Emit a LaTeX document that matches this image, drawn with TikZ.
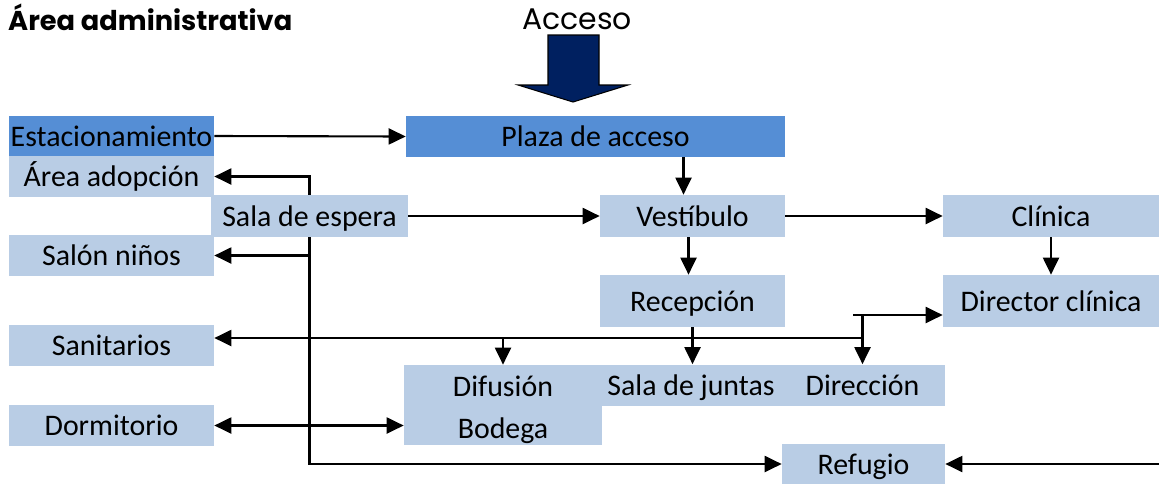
\documentclass[tikz,border=0pt]{standalone}
\usepackage{fontspec}
\setmainfont{Carlito}
\newfontfamily\gothic{Poppins}
\usetikzlibrary{arrows.meta}
\usetikzlibrary{positioning}
\definecolor{darkbox}{RGB}{85,142,213}
\definecolor{lightbox}{RGB}{185,205,229}
\definecolor{navy}{RGB}{0,32,96}

\tikzset{
  room/.style={fill=lightbox, inner sep=0pt, font=\fontsize{17}{23}\selectfont,
               text height=0.5cm, text depth=0.1cm},
  mainroom/.style={room, fill=darkbox},
  link/.style={line width=1.2pt, -{Triangle[length=3.4mm,width=3.2mm]}},
  duallink/.style={line width=1.2pt, {Triangle[length=3.4mm,width=3.2mm]}-{Triangle[length=3.4mm,width=3.2mm]}},
}

\begin{document}
\begin{tikzpicture}[x=0.02cm, y=-0.02cm]

\useasboundingbox (0,0) rectangle (1159,484);

%---------------------------------------
% Titles and access arrow
%---------------------------------------
\node[anchor=base west, font=\gothic\bfseries\fontsize{15.5}{18}\selectfont] (title) at (2,30) {Área administrativa};
\node[anchor=base, font=\gothic\fontsize{17}{20}\selectfont] (acceso) at (577,29) {Acceso};

\draw[fill=navy, line width=0.6pt] (548,35) -- (599,35) -- (599,85) -- (628,85)
  -- (573,102) -- (518,85) -- (548,85) -- cycle;

%---------------------------------------
% Rooms
%---------------------------------------
\node[mainroom, minimum width=4.1cm,  minimum height=0.8cm]  (est)     at (111.5,136)  {Estacionamiento};
\node[mainroom, minimum width=7.58cm, minimum height=0.82cm] (plaza)   at (595.5,136.5) {Plaza de acceso};
\node[room, minimum width=4.1cm,  minimum height=0.82cm] (adop)    at (111.5,176.5) {Área adopción};
\node[room, minimum width=3.94cm, minimum height=0.84cm] (espera)  at (309.5,216)   {Sala de espera};
\node[room, minimum width=4.1cm,  minimum height=0.82cm] (ninos)   at (111.5,255.5) {Salón niños};
\node[room, minimum width=3.7cm,  minimum height=0.84cm] (vest)    at (692.5,216)   {Vestíbulo};
\node[room, minimum width=4.32cm, minimum height=0.84cm] (clin)    at (1051,216)    {Clínica};
\node[room, minimum width=3.7cm,  minimum height=1.04cm] (recep)   at (692.5,301)   {Recepción};
\node[room, minimum width=4.32cm, minimum height=1.04cm] (dirclin) at (1051,301)    {Director clínica};
\node[room, minimum width=4.1cm,  minimum height=0.82cm] (sanit)   at (111.5,345.5) {Sanitarios};
\node[room, minimum width=3.96cm, minimum height=1.6cm, text height=, text depth=, align=center,
  font=\fontsize{17}{24}\selectfont] (difus) at (503,405) {\rule{0pt}{0.6cm}Difusión\\Bodega};
\node[room, minimum width=3.56cm, minimum height=0.82cm] (juntas)  at (691,385)     {Sala de juntas};
\node[room, minimum width=3.3cm,  minimum height=0.82cm] (direc)   at (862.5,385)   {Dirección};
\node[room, minimum width=4.1cm,  minimum height=0.82cm] (dorm)    at (111.5,425.5) {Dormitorio};
\node[room, minimum width=3.26cm, minimum height=0.8cm]  (refug)   at (863.5,464)   {Refugio};

%---------------------------------------
% Connections
%---------------------------------------
\coordinate (busend)  at (862.5,338);
\coordinate (dirfork) at (853,315);
\coordinate (refin)   at (1159,464);

\draw[link] (est.east) -- (plaza.west);
\draw[link] ([xshift=-0.18cm]vest.north |- plaza.south) -- ([xshift=-0.18cm]vest.north);
\draw[link] (espera.east) -- (vest.west);
\draw[link] (vest.east) -- (clin.west);
\draw[link] (clin.south) -- (dirclin.north);
\draw[link] ([xshift=-0.08cm]vest.south) -- ([xshift=-0.08cm]recep.north);
\draw[link] (recep.south) -- (recep.south |- juntas.north);

% waiting room branches
\draw[link] (espera.north) |- (adop.east);
\draw[link] (espera.south) |- (ninos.east);
\draw[link] (espera.south) |- (refug.west);

% service line
\draw[link] (busend) -- (sanit.east |- busend);
\draw[link] (difus.north |- busend) -- (difus.north);
\draw[link] (direc.north |- dirfork) -- (direc.north);
\draw[link] (dirfork) -- (dirclin.west |- dirfork);

\draw[duallink] (dorm.east) -- (difus.west |- dorm.east);
\draw[link] (refin) -- (refug.east);

\end{tikzpicture}
\end{document}
